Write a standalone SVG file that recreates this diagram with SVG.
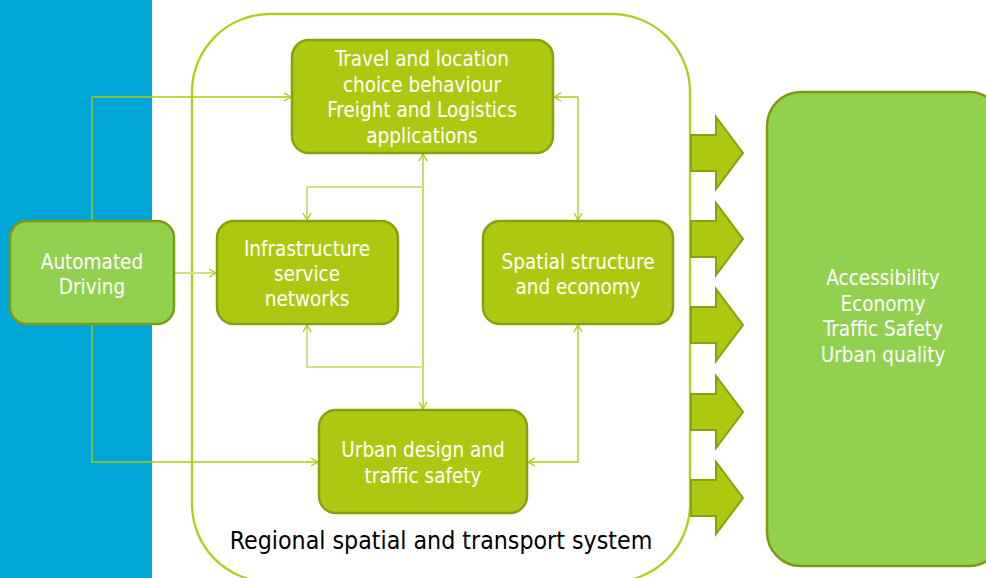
<svg xmlns="http://www.w3.org/2000/svg" width="986" height="578" viewBox="0 0 986 578">
<style>
.box{fill:#AEC811;stroke:#88A00D;stroke-width:2.5}
.lbox{fill:#92D050;stroke:#7E9A12;stroke-width:2.5}
.t{font-family:"DejaVu Sans Condensed","DejaVu Sans",sans-serif;font-size:20.5px;fill:#fff;text-anchor:middle}
.c{fill:none;stroke:#AEC90F;stroke-width:1.3}
.cl{fill:none;stroke:#CFE08A;stroke-width:2}
.arr{fill:#AEC811;stroke:#88A00D;stroke-width:2}
</style>
<defs>
<marker id="ah" markerWidth="9" markerHeight="10" refX="7.5" refY="5" orient="auto-start-reverse" markerUnits="userSpaceOnUse">
<path d="M0.5,1 L7.5,5 L0.5,9" fill="none" stroke="#AEC90F" stroke-width="1.3"/>
</marker>
</defs>
<rect x="0" y="0" width="152" height="578" fill="#00A6D6"/>
<g id="container">
<rect x="192" y="14" width="498" height="568" rx="78" ry="78" fill="none" stroke="#B3CD1E" stroke-width="2.3"/>
<text x="441" y="549" style="font-family:'DejaVu Sans Condensed','DejaVu Sans',sans-serif;font-size:24.7px;fill:#000;text-anchor:middle">Regional spatial and transport system</text>
</g>
<g id="connectors">
<path class="c" d="M92,221 V97 H291" marker-end="url(#ah)"/>
<path class="cl" d="M174,273 H216" marker-end="url(#ah)"/>
<path class="c" d="M92,324 V462 H318" marker-end="url(#ah)"/>
<path class="c" d="M554,97 H578 V220" marker-start="url(#ah)" marker-end="url(#ah)"/>
<path class="c" d="M578,325 V462 H528" marker-start="url(#ah)" marker-end="url(#ah)"/>
<path class="c" d="M423,154 V409" marker-start="url(#ah)" marker-end="url(#ah)"/>
<path class="cl" d="M423,187 H307 V220" marker-end="url(#ah)"/>
<path class="cl" d="M423,367 H307 V325" marker-end="url(#ah)"/>
</g>
<g id="travel">
<rect class="box" x="292" y="40" width="261" height="113" rx="17"/>
<text class="t" x="422" y="66">Travel and location</text>
<text class="t" x="422" y="91.5">choice behaviour</text>
<text class="t" x="422" y="117">Freight and Logistics</text>
<text class="t" x="422" y="142.5">applications</text>
</g>
<g id="automated">
<rect class="lbox" x="10" y="221" width="164" height="103" rx="17"/>
<text class="t" x="92" y="269">Automated</text>
<text class="t" x="92" y="294">Driving</text>
</g>
<g id="infrastructure">
<rect class="box" x="217" y="221" width="181" height="103" rx="17"/>
<text class="t" x="307" y="256">Infrastructure</text>
<text class="t" x="307" y="281">service</text>
<text class="t" x="307" y="306">networks</text>
</g>
<g id="spatial">
<rect class="box" x="483" y="221" width="190" height="103" rx="17"/>
<text class="t" x="578" y="269">Spatial structure</text>
<text class="t" x="578" y="294">and economy</text>
</g>
<g id="urban">
<rect class="box" x="319" y="410" width="208" height="103" rx="17"/>
<text class="t" x="423" y="457">Urban design and</text>
<text class="t" x="423" y="483">traffic safety</text>
</g>
<g id="outcomes">
<rect class="lbox" x="767" y="92" width="236" height="474" rx="34"/>
<text class="t" x="883" y="285">Accessibility</text>
<text class="t" x="883" y="310.5">Economy</text>
<text class="t" x="883" y="336">Traffic Safety</text>
<text class="t" x="883" y="361.5">Urban quality</text>
</g>
<g id="block-arrows">
<path class="arr" d="M691,135 H716 V117 L743,153 L716,189 V171 H691 Z"/>
<path class="arr" d="M691,221 H716 V203 L743,239 L716,275 V257 H691 Z"/>
<path class="arr" d="M691,307 H716 V289 L743,325 L716,361 V343 H691 Z"/>
<path class="arr" d="M691,394 H716 V376 L743,412 L716,448 V430 H691 Z"/>
<path class="arr" d="M691,480 H716 V462 L743,498 L716,534 V516 H691 Z"/>
</g>
</svg>
